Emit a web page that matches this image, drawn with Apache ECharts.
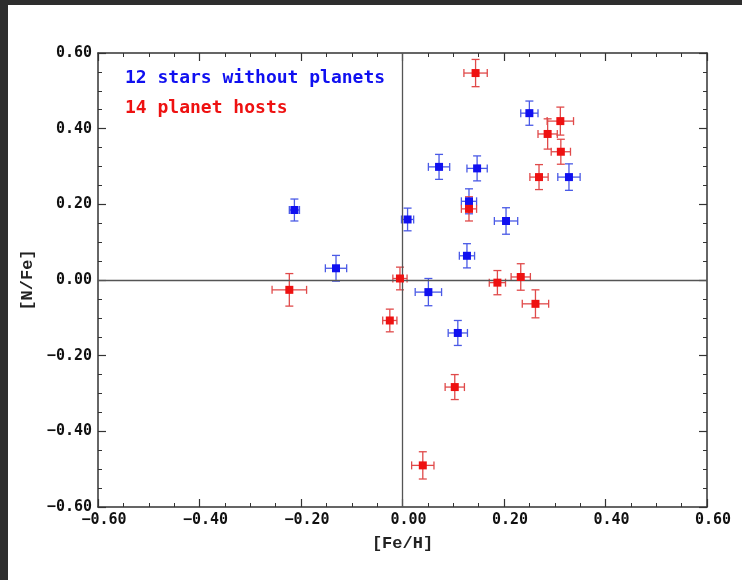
<!DOCTYPE html>
<html>
<head>
<meta charset="utf-8">
<script src="https://cdn.jsdelivr.net/npm/echarts@6/dist/echarts.min.js"></script>
<style>
    html, body {margin: 0; padding: 0; background: #fff;}
    #frame {position: absolute; left: 0; top: 0; width: 742px; height: 580px; background: #2e2e2e;}
    #chart {position: absolute; left: 8px; top: 5px; width: 734px; height: 575px; background: #fff;}
</style>
</head>
<body>
<div id="frame"></div>
<div id="chart"></div>
<script>
    // 12 stars without planets
    var blueFeH = [-0.213, -0.131, 0.010, 0.072, 0.147, 0.131, 0.250, 0.328, 0.204, 0.127, 0.051, 0.109];
    var blueNFe = [0.185, 0.031, 0.160, 0.299, 0.295, 0.208, 0.441, 0.272, 0.156, 0.064, -0.032, -0.140];
    var blueErrX = [0.010, 0.021, 0.012, 0.021, 0.020, 0.015, 0.017, 0.022, 0.023, 0.015, 0.026, 0.019];
    var blueErrY = [0.029, 0.034, 0.030, 0.033, 0.033, 0.033, 0.032, 0.035, 0.035, 0.032, 0.036, 0.033];

    // 14 planet hosts
    var redFeH = [-0.223, -0.005, -0.025, 0.144, 0.131, 0.311, 0.286, 0.312, 0.269, 0.187, 0.233, 0.262, 0.103, 0.040];
    var redNFe = [-0.026, 0.004, -0.107, 0.547, 0.188, 0.420, 0.386, 0.339, 0.272, -0.007, 0.008, -0.063, -0.283, -0.490];
    var redErrX = [0.034, 0.014, 0.014, 0.023, 0.015, 0.026, 0.019, 0.019, 0.018, 0.016, 0.019, 0.026, 0.019, 0.022];
    var redErrY = [0.043, 0.030, 0.030, 0.036, 0.032, 0.037, 0.040, 0.033, 0.033, 0.032, 0.035, 0.037, 0.033, 0.036];

    var legendTexts = ['12 stars without planets', '14 planet hosts'];

    var blue = '#1010f0', blueBar = '#4a5ae6';
    var red = '#ee1111', redBar = '#e04a4a';

    function toPoints(xs, ys, ex, ey) {
        var out = [];
        for (var i = 0; i < xs.length; i++) {
            out.push([xs[i], ys[i], ex[i], ey[i]]);
        }
        return out;
    }

    //误差棒
    function errorBars(color) {
        return function (params, api) {
            var x = api.value(0), y = api.value(1), ex = api.value(2), ey = api.value(3);
            var l = api.coord([x - ex, y]), r = api.coord([x + ex, y]);
            var t = api.coord([x, y + ey]), b = api.coord([x, y - ey]);
            var cap = 4;
            var style = {stroke: color, lineWidth: 1.3};
            var seg = function (x1, y1, x2, y2) {
                return {type: 'line', shape: {x1: x1, y1: y1, x2: x2, y2: y2}, style: style};
            };
            return {
                type: 'group',
                children: [
                    seg(l[0], l[1], r[0], r[1]),
                    seg(t[0], t[1], b[0], b[1]),
                    seg(l[0], l[1] - cap, l[0], l[1] + cap),
                    seg(r[0], r[1] - cap, r[0], r[1] + cap),
                    seg(t[0] - cap, t[1], t[0] + cap, t[1]),
                    seg(b[0] - cap, b[1], b[0] + cap, b[1])
                ]
            };
        };
    }

    function fmt(v) {
        var s = Math.abs(v).toFixed(2);
        return v < -1e-9 ? '\u2212' + s : s;
    }

    var axisLine = {show: true, onZero: false, lineStyle: {color: '#333', width: 1.5}};
    var labelFont = {fontFamily: 'DejaVu Sans Mono', fontWeight: 'bold', fontSize: 15, color: '#111'};

    function valAxis(opt) {
        var base = {
            type: 'value', min: -0.6, max: 0.6, interval: 0.2,
            axisLine: axisLine,
            axisTick: {show: true, inside: true, length: 8, lineStyle: {color: '#333', width: 1.2}},
            minorTick: {show: true, splitNumber: 4, length: 4, lineStyle: {color: '#333', width: 1}},
            splitLine: {show: false}
        };
        for (var k in opt) base[k] = opt[k];
        return base;
    }

    var chart = echarts.init(document.getElementById('chart'));
    chart.setOption({
        animation: false,
        grid: {left: 90, right: 35, top: 48, bottom: 73},
        xAxis: [
            valAxis({
                position: 'bottom',
                name: '[Fe/H]', nameLocation: 'middle', nameGap: 28,
                nameTextStyle: {fontFamily: 'Liberation Mono', fontWeight: 'bold', fontSize: 17, color: '#222'},
                axisLabel: Object.assign({margin: 6, padding: [0, 0, 0, 12], formatter: fmt}, labelFont)
            }),
            valAxis({position: 'top', axisLabel: {show: false}})
        ],
        yAxis: [
            valAxis({
                position: 'left',
                name: '[N/Fe]', nameLocation: 'middle', nameGap: 62, nameRotate: 90,
                nameTextStyle: {fontFamily: 'Liberation Mono', fontWeight: 'bold', fontSize: 17, color: '#222'},
                axisLabel: Object.assign({margin: 6, formatter: fmt}, labelFont)
            }),
            valAxis({position: 'right', axisLabel: {show: false}})
        ],
        graphic: [
            {type: 'text', left: 117, top: 64, style: {text: legendTexts[0], fill: blue, font: 'bold 18px "DejaVu Sans Mono"'}},
            {type: 'text', left: 117, top: 94, style: {text: legendTexts[1], fill: red, font: 'bold 18px "DejaVu Sans Mono"'}}
        ],
        series: [
            {
                type: 'scatter', data: [], silent: true,
                markLine: {
                    silent: true, symbol: 'none', label: {show: false},
                    lineStyle: {color: '#555', width: 1.3, type: 'solid'},
                    data: [{xAxis: 0}, {yAxis: 0}]
                }
            },
            {type: 'custom', renderItem: errorBars(blueBar), data: toPoints(blueFeH, blueNFe, blueErrX, blueErrY), z: 3},
            {type: 'custom', renderItem: errorBars(redBar), data: toPoints(redFeH, redNFe, redErrX, redErrY), z: 3},
            {
                type: 'scatter', symbol: 'rect', symbolSize: 8, z: 5,
                itemStyle: {color: blue, opacity: 1},
                data: toPoints(blueFeH, blueNFe, blueErrX, blueErrY)
            },
            {
                type: 'scatter', symbol: 'rect', symbolSize: 8, z: 5,
                itemStyle: {color: red, opacity: 1},
                data: toPoints(redFeH, redNFe, redErrX, redErrY)
            }
        ]
    });
</script>
</body>
</html>
